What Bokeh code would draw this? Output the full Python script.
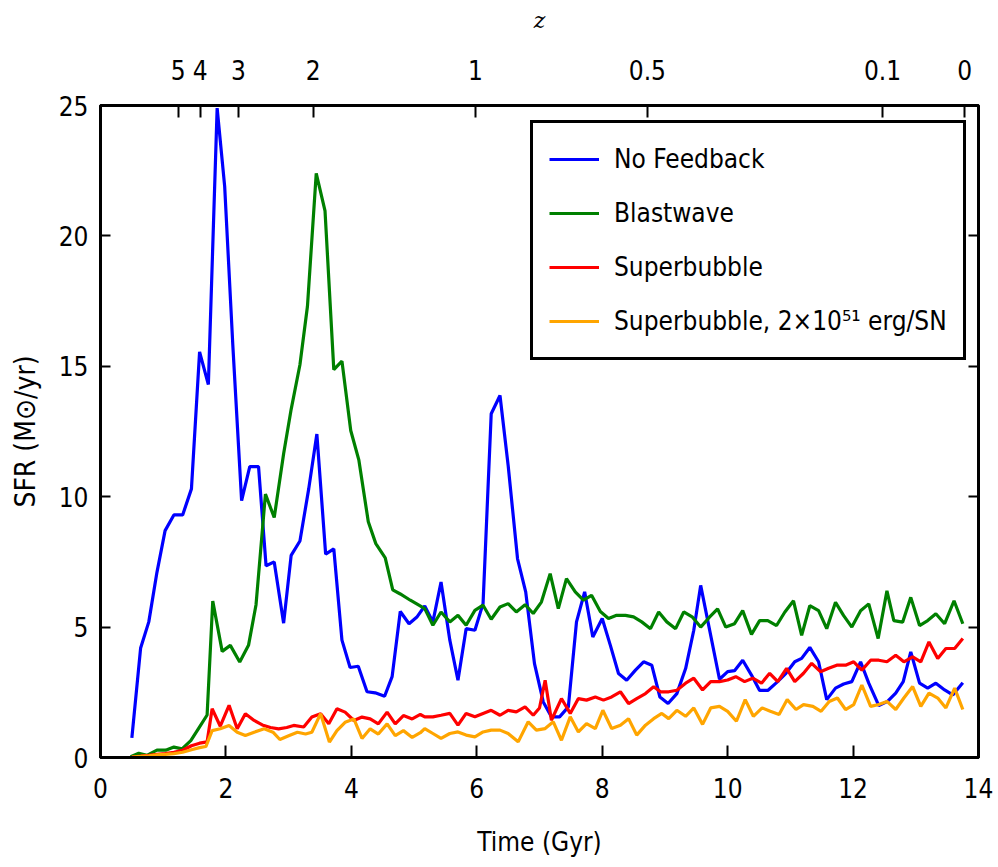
from bokeh.plotting import figure
from bokeh.models import LinearAxis, FixedTicker, Legend, LegendItem, Range1d
from bokeh.embed import file_html
from bokeh.resources import INLINE

# ---- data ----
t_nofb = [0.50,0.64,0.77,0.90,1.03,1.17,1.31,1.45,1.58,1.72,1.86,1.98,2.11,2.25,2.38,2.52,2.64,2.77,2.92,3.04,
          3.18,3.32,3.45,3.59,3.72,3.85,3.98,4.11,4.25,4.38,4.53,4.65,4.78,4.92,5.05,5.17,5.30,5.43,5.57,5.70,
          5.83,5.97,6.10,6.23,6.37,6.50,6.65,6.78,6.92,7.06,7.19,7.32,7.46,7.59,7.72,7.85,8.00,8.13,8.26,8.39,
          8.53,8.66,8.79,8.92,9.05,9.19,9.33,9.46,9.57,9.87,10.00,10.11,10.24,10.38,10.51,10.64,10.78,10.93,11.07,11.18,
          11.31,11.45,11.58,11.72,11.85,11.98,12.12,12.25,12.41,12.55,12.68,12.80,12.92,13.06,13.19,13.32,13.46,13.59,13.75]
sfr_nofb = [0.75,4.2,5.2,7.1,8.7,9.3,9.3,10.3,15.55,14.3,24.9,21.9,15.8,9.85,11.15,11.15,7.35,7.5,5.15,7.75,
            8.3,10.3,12.4,7.8,8.0,4.5,3.45,3.5,2.52,2.48,2.35,3.1,5.6,5.13,5.4,5.81,5.2,6.73,4.5,2.96,
            4.94,4.88,5.9,13.18,13.88,11.2,7.62,6.35,3.6,2.13,1.56,1.56,1.94,5.2,6.35,4.62,5.33,4.3,3.22,2.96,
            3.35,3.67,3.54,2.32,2.07,2.45,3.41,4.88,6.6,3.0,3.29,3.33,3.73,3.16,2.57,2.57,2.87,3.23,3.67,3.8,
            4.22,3.67,2.22,2.66,2.82,2.91,3.67,2.85,1.99,2.15,2.47,2.91,4.05,2.85,2.66,2.85,2.59,2.4,2.87]

t_blast = [0.48,0.61,0.74,0.90,1.04,1.17,1.30,1.44,1.57,1.70,1.79,1.94,2.07,2.22,2.36,2.48,2.63,2.77,2.92,3.04,
           3.18,3.30,3.44,3.58,3.72,3.85,3.99,4.12,4.27,4.39,4.54,4.66,4.78,4.94,5.07,5.17,5.30,5.43,5.57,5.70,
           5.83,5.97,6.10,6.23,6.37,6.50,6.63,6.77,6.90,7.03,7.17,7.30,7.43,7.57,7.70,7.83,7.97,8.10,8.23,8.37,
           8.50,8.63,8.77,8.90,9.03,9.17,9.30,9.44,9.57,9.71,9.84,9.97,10.11,10.24,10.38,10.51,10.64,10.78,10.91,11.05,
           11.18,11.31,11.45,11.58,11.72,11.85,11.98,12.12,12.25,12.40,12.54,12.65,12.79,12.92,13.06,13.19,13.32,13.46,13.61,13.75]
sfr_blast = [0.03,0.16,0.08,0.28,0.28,0.4,0.33,0.65,1.14,1.63,6.0,4.07,4.3,3.66,4.3,5.86,10.1,9.2,11.65,13.35,
             15.06,17.3,22.4,20.96,14.87,15.2,12.54,11.4,9.04,8.2,7.65,6.43,6.27,6.03,5.85,5.71,5.07,5.58,5.2,5.45,
             5.07,5.64,5.84,5.3,5.77,5.9,5.58,5.86,5.52,5.96,7.05,5.71,6.86,6.35,6.03,6.22,5.6,5.33,5.45,5.45,
             5.39,5.2,4.94,5.58,5.2,4.94,5.58,5.38,5.0,5.38,5.7,5.0,5.13,5.63,4.72,5.25,5.25,5.06,5.57,6.01,
             4.68,5.82,5.63,4.94,5.95,5.44,5.0,5.63,5.89,4.56,6.39,5.25,5.19,6.14,5.06,5.25,5.51,5.13,6.01,5.13]

t_sb = [0.50,0.64,0.77,0.90,1.03,1.17,1.31,1.45,1.58,1.70,1.78,1.91,2.05,2.18,2.31,2.45,2.58,2.71,2.84,2.97,
        3.08,3.24,3.37,3.51,3.64,3.77,3.90,4.04,4.17,4.30,4.43,4.57,4.70,4.83,4.97,5.10,5.17,5.30,5.43,5.57,
        5.70,5.83,5.97,6.10,6.23,6.37,6.50,6.63,6.77,6.90,7.00,7.09,7.19,7.35,7.49,7.62,7.75,7.89,8.02,8.15,
        8.29,8.42,8.55,8.69,8.82,8.93,9.06,9.19,9.33,9.46,9.60,9.73,9.87,10.00,10.13,10.27,10.40,10.54,10.67,10.80,
        10.94,11.07,11.21,11.34,11.48,11.61,11.74,11.88,12.01,12.14,12.28,12.41,12.54,12.68,12.81,12.95,13.08,13.21,13.35,13.48,
        13.62,13.75]
sfr_sb = [0.02,0.05,0.08,0.12,0.15,0.2,0.28,0.45,0.55,0.6,1.87,1.2,2.0,1.1,1.68,1.42,1.25,1.15,1.1,1.15,
          1.23,1.17,1.55,1.68,1.29,1.87,1.74,1.42,1.55,1.48,1.29,1.74,1.29,1.61,1.48,1.65,1.56,1.56,1.62,1.69,
          1.24,1.69,1.56,1.69,1.81,1.62,1.81,1.75,1.94,1.62,1.9,2.96,1.43,2.26,1.69,2.26,2.2,2.32,2.2,2.32,
          2.52,2.07,2.26,2.45,2.71,2.52,2.52,2.58,2.85,3.04,2.59,2.91,2.91,2.97,3.1,2.91,3.04,2.85,3.23,2.91,
          3.42,2.91,3.23,3.61,3.29,3.42,3.54,3.54,3.67,3.35,3.73,3.73,3.67,3.92,3.67,3.86,3.67,4.43,3.8,4.18,
          4.18,4.56]

t_sb2 = [0.50,0.64,0.77,0.90,1.03,1.17,1.31,1.45,1.58,1.68,1.78,1.91,2.05,2.18,2.31,2.45,2.61,2.75,2.86,3.01,
         3.14,3.27,3.37,3.51,3.65,3.77,3.90,4.04,4.17,4.30,4.43,4.57,4.70,4.83,4.97,5.10,5.17,5.30,5.43,5.57,
         5.70,5.83,5.97,6.10,6.23,6.37,6.50,6.66,6.82,6.95,7.09,7.22,7.35,7.49,7.62,7.75,7.89,8.01,8.15,8.29,
         8.42,8.55,8.69,8.82,8.95,9.06,9.19,9.33,9.46,9.60,9.73,9.87,10.00,10.14,10.28,10.41,10.55,10.68,10.82,10.95,
         11.09,11.21,11.36,11.49,11.62,11.75,11.88,12.01,12.14,12.28,12.41,12.54,12.68,12.81,12.95,13.08,13.21,13.35,13.48,13.62,
         13.75]
sfr_sb2 = [0.02,0.04,0.06,0.1,0.12,0.15,0.2,0.3,0.38,0.42,1.03,1.1,1.23,0.97,0.84,0.97,1.1,0.97,0.69,0.84,
           0.97,0.9,0.97,1.68,0.59,1.03,1.35,1.48,0.73,1.1,0.9,1.29,0.84,1.03,0.77,0.95,1.11,0.92,0.73,0.92,
           0.98,0.86,0.79,0.98,1.05,1.05,0.92,0.6,1.37,1.05,1.11,1.37,0.66,1.56,0.98,1.3,1.11,1.81,1.11,1.24,
           1.49,0.86,1.24,1.49,1.69,1.49,1.81,1.58,1.9,1.27,1.9,1.96,1.77,1.39,2.22,1.58,1.9,1.77,1.65,2.22,
           1.84,2.03,1.96,1.77,2.15,2.28,1.84,2.03,2.78,1.96,2.03,2.15,1.84,2.28,2.72,1.96,2.47,2.28,1.9,2.66,
           1.84]

series_names = ["No Feedback", "Blastwave", "Superbubble", "Superbubble, 2×10⁵¹ erg/SN"]
series_colors = ["#0000ff", "#008000", "#ff0000", "#ffa500"]

x_ticks = [0, 2, 4, 6, 8, 10, 12, 14]
y_ticks = [0, 5, 10, 15, 20, 25]
z_labels = ["5", "4", "3", "2", "1", "0.5", "0.1", "0"]
z_times = [1.24, 1.59, 2.20, 3.39, 5.98, 8.72, 12.47, 13.78]

FONT = "DejaVu Sans Condensed, DejaVu Sans"

p = figure(frame_width=878, frame_height=652, x_range=Range1d(0, 14), y_range=Range1d(0, 25),
           min_border_left=100, min_border_right=20, min_border_top=105, min_border_bottom=110,
           output_backend="svg", toolbar_location=None, x_axis_label="Time (Gyr)",
           y_axis_label="SFR (M⊙/yr)")
p.xgrid.visible = False
p.ygrid.visible = False
p.outline_line_color = "black"
p.outline_line_width = 3
p.outline_line_alpha = 1.0
p.background_fill_color = "white"
p.border_fill_color = "white"

renderers = []
for (tt, vv), col in zip([(t_nofb, sfr_nofb), (t_blast, sfr_blast), (t_sb, sfr_sb), (t_sb2, sfr_sb2)], series_colors):
    r = p.line(tt, vv, line_color=col, line_width=3.2)
    renderers.append(r)

def style_axis(ax, tick_in, labels=True):
    ax.axis_line_width = 3
    ax.axis_line_color = "black"
    ax.major_tick_in = tick_in
    ax.major_tick_out = 0
    ax.major_tick_line_width = 2
    ax.major_tick_line_color = "black"
    ax.minor_tick_line_color = None
    ax.major_label_text_font = FONT
    ax.major_label_text_font_size = "26px"
    ax.major_label_text_color = "black" if labels else None
    ax.axis_label_text_font = FONT
    ax.axis_label_text_font_size = "26px"
    ax.axis_label_text_font_style = "normal"
    ax.axis_label_text_color = "black"

xa = p.xaxis[0]
xa.ticker = FixedTicker(ticks=x_ticks)
style_axis(xa, 12)
xa.major_label_standoff = 20
xa.axis_label_standoff = 26

ya = p.yaxis[0]
ya.ticker = FixedTicker(ticks=y_ticks)
style_axis(ya, 10)
ya.major_label_standoff = 12
ya.axis_label_standoff = 14
ya.axis_label_text_font_size = "28px"

ra = LinearAxis(ticker=FixedTicker(ticks=y_ticks))
style_axis(ra, 10, labels=False)
ra.major_label_text_font_size = "1px"
ra.major_label_standoff = 0
p.add_layout(ra, "right")

ta = LinearAxis(ticker=FixedTicker(ticks=z_times), axis_label="z",
                major_label_overrides={tv: lab for tv, lab in zip(z_times, z_labels)})
style_axis(ta, 12)
ta.major_label_standoff = 26
ta.axis_label_standoff = 24
ta.axis_label_text_font = "DejaVu Serif"
ta.axis_label_text_font_style = "italic"
ta.axis_label_text_font_size = "22px"
p.add_layout(ta, "above")

legend = Legend(items=[LegendItem(label=n, renderers=[r]) for n, r in zip(series_names, renderers)],
                location=(430, 397), margin=0, padding=16, spacing=14,
                glyph_width=50, glyph_height=40, label_standoff=15,
                label_text_font=FONT, label_text_font_size="26px", label_text_color="black",
                border_line_color="black", border_line_width=3, border_line_alpha=1.0,
                background_fill_color="white", background_fill_alpha=1.0)
p.add_layout(legend, "center")

open("out.html", "w").write(file_html(p, INLINE))
